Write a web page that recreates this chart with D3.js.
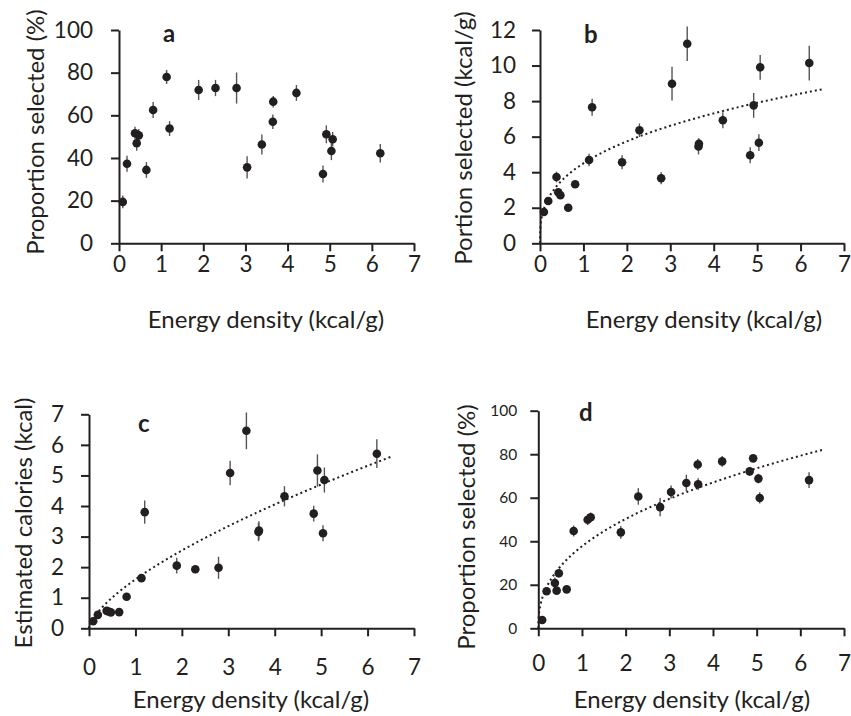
<!DOCTYPE html>
<html>
<head>
<meta charset="utf-8">
<script src="https://cdn.jsdelivr.net/npm/d3@7/dist/d3.min.js"></script>
<style>
  body { margin: 0; background: #fff; }
  text { font-family: Lato, "Open Sans", sans-serif; fill: #231f20; }
  .axis path, .axis line { stroke: #231f20; stroke-width: 2; }
</style>
</head>
<body>
<svg id="chart" width="851" height="716"></svg>
<script>
// energy density of each food (kcal/g), shared by all four panels
var energy = [0.09, 0.19, 0.38, 0.42, 0.47, 0.65, 0.81, 1.13, 1.20, 1.89, 2.29,
              2.79, 3.04, 3.39, 3.65, 3.66, 4.21, 4.84, 4.92, 5.04, 5.07, 6.20];

// a: proportion selected (%)
var propA = [19.4, 37.3, 51.6, 46.9, 50.6, 34.4, 62.5, 78.0, 53.8, 71.9, 72.8,
             72.8, 35.6, 46.3, 57.0, 66.4, 70.5, 32.5, 51.1, 43.3, 48.8, 42.2];
var errA  = [3.0, 3.7, 3.0, 3.5, 3.0, 3.7, 3.7, 3.3, 3.5, 4.7, 3.8,
             7.3, 5.2, 4.7, 3.4, 2.7, 3.7, 4.0, 4.2, 4.3, 3.4, 4.3];

// b: portion selected (kcal/g)
var portionB = [1.76, 2.38, 3.73, 2.87, 2.70, 2.00, 3.32, 4.69, 7.65, 4.56, 6.36,
                3.66, 8.98, 11.23, 5.45, 5.60, 6.92, 4.95, 7.76, 5.66, 9.90, 10.14];
var errB     = [0.20, 0.20, 0.30, 0.20, 0.20, 0.15, 0.20, 0.35, 0.48, 0.40, 0.38,
                0.34, 0.95, 0.97, 0.45, 0.30, 0.45, 0.45, 0.70, 0.47, 0.70, 0.98];

// c: estimated calories (kcal)
var caloriesC = [0.23, 0.44, 0.57, 0.55, 0.52, 0.53, 1.03, 1.64, 3.80, 2.05, 1.93,
                 1.98, 5.08, 6.46, 3.15, 3.20, 4.32, 3.75, 5.16, 3.11, 4.85, 5.71];
var errC      = [0.05, 0.05, 0.06, 0.06, 0.06, 0.06, 0.08, 0.10, 0.38, 0.26, 0.13,
                 0.36, 0.40, 0.60, 0.30, 0.30, 0.33, 0.26, 0.53, 0.26, 0.41, 0.47];

// d: proportion selected (%)
var propD = [3.8, 17.0, 20.8, 17.3, 25.3, 17.9, 44.7, 49.9, 51.0, 44.1, 60.6,
             55.7, 62.6, 66.8, 75.3, 66.2, 76.7, 72.1, 78.1, 68.8, 59.9, 68.1];
var errD  = [1.5, 1.5, 2.5, 1.5, 2.0, 1.5, 2.5, 2.5, 2.2, 2.9, 3.8,
             4.2, 3.0, 3.8, 2.5, 2.7, 2.5, 2.0, 1.5, 2.2, 2.6, 3.6];

// power trendlines y = k * x^p
var trendB = [4.5, 0.35];
var trendC = [1.6, 0.67];
var trendD = [37.7, 0.415];

var xTicks = [0, 1, 2, 3, 4, 5, 6, 7];
var ticksA = [0, 20, 40, 60, 80, 100];
var ticksB = [0, 2, 4, 6, 8, 10, 12];
var ticksC = [0, 1, 2, 3, 4, 5, 6, 7];
var ticksD = [0, 20, 40, 60, 80, 100];

var svg = d3.select("#chart");

var panels = [
  {letter: "a", y: propA, err: errA, ticks: ticksA, trend: null,
   x0: 119, x1: 414, yTop: 30, yBot: 243.3, yFont: 22.5, yPad: 18, xPad: 5,
   yLabel: "Proportion selected (%)", yLab: [36, 132], xLab: [266, 328], let: [163, 42]},
  {letter: "b", y: portionB, err: errB, ticks: ticksB, trend: trendB,
   x0: 540, x1: 844, yTop: 30, yBot: 243.3, yFont: 22.5, yPad: 16, xPad: 5,
   yLabel: "Portion selected (kcal/g)", yLab: [464, 138], xLab: [704, 328], let: [584, 43]},
  {letter: "c", y: caloriesC, err: errC, ticks: ticksC, trend: trendC,
   x0: 89, x1: 414, yTop: 414.3, yBot: 628.3, yFont: 22.5, yPad: 17, xPad: 23,
   yLabel: "Estimated calories (kcal)", yLab: [24, 523], xLab: [251, 708], let: [138, 432]},
  {letter: "d", y: propD, err: errD, ticks: ticksD, trend: trendD,
   x0: 538.3, x1: 844, yTop: 410.7, yBot: 628.3, yFont: 15.5, yPad: 13, xPad: 19,
   yLabel: "Proportion selected (%)", yLab: [467, 527], xLab: [692, 708], let: [579, 421]}
];

panels.forEach(function(p) {
  var x = d3.scaleLinear().domain([0, 7]).range([p.x0, p.x1]);
  var y = d3.scaleLinear().domain([0, d3.max(p.ticks)]).range([p.yBot, p.yTop]);
  var g = svg.append("g");

  g.append("g")
      .attr("class", "axis")
      .attr("transform", "translate(0," + p.yBot + ")")
      .call(d3.axisBottom(x).tickValues(xTicks).tickFormat(d3.format("d"))
        .tickSize(8).tickPadding(p.xPad).tickSizeOuter(0))
    .selectAll("text")
      .style("font-size", "22.5px");

  g.append("g")
      .attr("class", "axis")
      .attr("transform", "translate(" + p.x0 + ",0)")
      .call(d3.axisLeft(y).tickValues(p.ticks).tickFormat(d3.format("d"))
        .tickSize(8).tickPadding(p.yPad).tickSizeOuter(0))
    .selectAll("text")
      .style("font-size", p.yFont + "px");

  svg.selectAll(".axis text").attr("fill", "#231f20");

  if (p.trend) {
    var k = p.trend[0], e = p.trend[1];
    var xs = d3.range(0, 0.2, 0.002).concat(d3.range(0.2, 6.501, 0.05));
    g.append("path")
        .datum(xs)
        .attr("fill", "none")
        .attr("stroke", "#231f20")
        .attr("stroke-width", 2)
        .attr("stroke-dasharray", "2,3")
        .attr("d", d3.line()
          .x(function(d) { return x(d); })
          .y(function(d) { return y(k * Math.pow(d, e)); }));
  }

  var pts = energy.map(function(d, i) { return {x: d, y: p.y[i], e: p.err[i]}; });

  g.selectAll(".err")
    .data(pts)
    .enter().append("line")
      .attr("class", "err")
      .attr("x1", function(d) { return x(d.x); })
      .attr("x2", function(d) { return x(d.x); })
      .attr("y1", function(d) { return y(d.y - d.e); })
      .attr("y2", function(d) { return y(d.y + d.e); })
      .attr("stroke", "#555")
      .attr("stroke-width", 1.4);

  g.selectAll(".dot")
    .data(pts)
    .enter().append("circle")
      .attr("class", "dot")
      .attr("cx", function(d) { return x(d.x); })
      .attr("cy", function(d) { return y(d.y); })
      .attr("r", 4.3)
      .attr("fill", "#231f20");

  g.append("text")
      .attr("transform", "translate(" + p.yLab[0] + "," + p.yLab[1] + ") rotate(-90)")
      .attr("text-anchor", "middle")
      .attr("dy", "0.35em")
      .style("font-size", "24px")
      .text(p.yLabel);

  g.append("text")
      .attr("x", p.xLab[0])
      .attr("y", p.xLab[1])
      .attr("text-anchor", "middle")
      .style("font-size", "24px")
      .text("Energy density (kcal/g)");

  g.append("text")
      .attr("x", p.let[0])
      .attr("y", p.let[1])
      .style("font-size", "24px")
      .style("font-weight", "bold")
      .text(p.letter);
});
</script>
</body>
</html>
